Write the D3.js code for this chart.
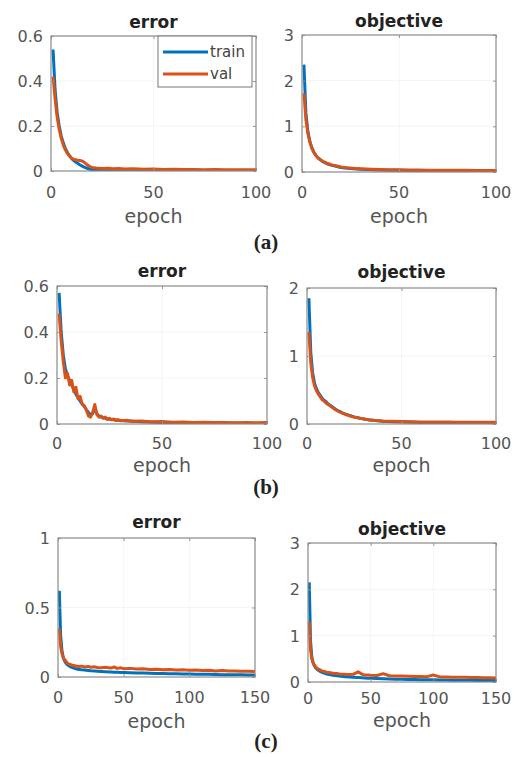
<!DOCTYPE html>
<meta charset="utf-8">
<style>
    body { margin: 0; background: #fff; }
    svg text { font-family: "DejaVu Sans", sans-serif; }
</style>
<script src="https://d3js.org/d3.v7.min.js"></script>
<div id="chart"></div>
<script>
    // ---- data ----
    var aEpochs = [1,2,3,4,5,6,7,8,9,10,11,12,13,14,15,16,17,18,19,20,22,25,28,30,33,36,40,45,50,55,60,65,70,75,80,85,90,95,100];
    var aErrTrain = [0.54,0.36,0.26,0.2,0.155,0.125,0.1,0.082,0.068,0.056,0.047,0.04,0.034,0.028,0.023,0.018,0.014,0.011,0.008,0.006,0.004,0.003,0.002,0.002,0.002,0.001,0.001,0.001,0.001,0.001,0.001,0.001,0.001,0.001,0.001,0.001,0.001,0.001,0.001];
    var aErrVal = [0.42,0.32,0.24,0.185,0.145,0.115,0.094,0.078,0.066,0.058,0.052,0.05,0.048,0.047,0.045,0.04,0.033,0.025,0.02,0.016,0.013,0.011,0.012,0.01,0.011,0.009,0.01,0.008,0.009,0.007,0.008,0.007,0.007,0.006,0.007,0.006,0.006,0.006,0.006];
    var aObjTrain = [2.35,1.3,0.9,0.68,0.54,0.44,0.37,0.32,0.28,0.25,0.22,0.2,0.18,0.165,0.15,0.14,0.13,0.12,0.11,0.1,0.09,0.075,0.065,0.06,0.055,0.05,0.045,0.04,0.036,0.033,0.03,0.028,0.026,0.025,0.023,0.022,0.021,0.02,0.019];
    var aObjVal = [1.72,1.15,0.85,0.66,0.53,0.44,0.37,0.32,0.285,0.255,0.23,0.21,0.19,0.175,0.16,0.15,0.14,0.13,0.12,0.11,0.1,0.085,0.075,0.07,0.065,0.06,0.055,0.05,0.048,0.045,0.043,0.041,0.04,0.038,0.037,0.036,0.035,0.034,0.034];

    var bEpochs = [1,2,3,4,5,6,7,8,9,10,11,12,13,14,15,16,17,18,19,20,21,22,23,24,25,26,27,28,29,30,33,36,40,45,50,55,60,65,70,75,80,85,90,95,100];
    var bErrTrain = [0.57,0.4,0.3,0.24,0.21,0.19,0.17,0.15,0.13,0.115,0.1,0.088,0.075,0.062,0.05,0.04,0.045,0.07,0.045,0.035,0.03,0.027,0.025,0.023,0.021,0.02,0.018,0.017,0.016,0.015,0.013,0.012,0.01,0.008,0.007,0.006,0.005,0.004,0.004,0.003,0.003,0.003,0.002,0.002,0.002];
    var bErrVal = [0.48,0.36,0.27,0.2,0.22,0.17,0.19,0.14,0.16,0.11,0.12,0.085,0.08,0.06,0.035,0.03,0.05,0.085,0.04,0.03,0.035,0.025,0.03,0.02,0.025,0.018,0.022,0.015,0.019,0.014,0.016,0.012,0.013,0.01,0.011,0.008,0.009,0.007,0.008,0.006,0.007,0.005,0.006,0.005,0.006];
    var bObjTrain = [1.85,1.05,0.75,0.6,0.52,0.46,0.42,0.38,0.35,0.33,0.3,0.28,0.26,0.24,0.22,0.2,0.19,0.175,0.16,0.15,0.14,0.13,0.122,0.113,0.105,0.098,0.091,0.085,0.08,0.075,0.06,0.05,0.04,0.033,0.028,0.025,0.022,0.02,0.019,0.018,0.017,0.016,0.015,0.015,0.014];
    var bObjVal = [1.35,0.9,0.68,0.56,0.49,0.44,0.4,0.36,0.335,0.31,0.29,0.27,0.25,0.23,0.21,0.195,0.18,0.17,0.155,0.145,0.135,0.125,0.117,0.108,0.1,0.095,0.09,0.085,0.08,0.075,0.062,0.053,0.045,0.04,0.036,0.033,0.031,0.03,0.029,0.028,0.027,0.027,0.026,0.026,0.025];

    var cEpochs = [1,2,3,4,5,6,7,8,9,10,11,12,13,14,15,18,20,23,25,28,30,33,36,40,43,45,48,50,55,60,65,70,75,80,85,90,95,100,105,110,115,120,125,130,135,140,145,150];
    var cErrTrain = [0.62,0.3,0.19,0.14,0.115,0.1,0.09,0.082,0.076,0.071,0.067,0.064,0.061,0.058,0.056,0.052,0.05,0.047,0.045,0.043,0.042,0.04,0.038,0.036,0.035,0.034,0.033,0.032,0.03,0.029,0.028,0.027,0.026,0.025,0.024,0.023,0.022,0.021,0.02,0.019,0.019,0.018,0.017,0.017,0.016,0.016,0.015,0.015];
    var cErrVal = [0.35,0.22,0.17,0.14,0.125,0.115,0.1,0.095,0.09,0.088,0.082,0.085,0.078,0.08,0.076,0.078,0.072,0.075,0.07,0.073,0.068,0.066,0.07,0.064,0.072,0.062,0.066,0.06,0.062,0.057,0.059,0.054,0.056,0.052,0.054,0.05,0.052,0.048,0.05,0.046,0.049,0.044,0.046,0.043,0.044,0.041,0.042,0.04];
    var cObjTrain = [2.15,0.9,0.55,0.42,0.35,0.31,0.28,0.26,0.24,0.225,0.21,0.2,0.19,0.18,0.17,0.155,0.145,0.135,0.128,0.12,0.115,0.108,0.102,0.095,0.09,0.087,0.083,0.08,0.075,0.07,0.066,0.062,0.059,0.056,0.053,0.05,0.048,0.046,0.044,0.042,0.04,0.039,0.037,0.036,0.035,0.034,0.033,0.032];
    var cObjVal = [1.3,0.7,0.5,0.42,0.37,0.33,0.3,0.28,0.27,0.255,0.24,0.235,0.225,0.22,0.21,0.2,0.19,0.185,0.175,0.17,0.165,0.16,0.165,0.22,0.17,0.15,0.15,0.145,0.14,0.18,0.135,0.13,0.128,0.125,0.12,0.118,0.115,0.15,0.11,0.108,0.105,0.1,0.1,0.098,0.095,0.093,0.09,0.088];

    var errTicks = [0, 0.2, 0.4, 0.6];
    var errTicksC = [0, 0.5, 1];
    var objTicks3 = [0, 1, 2, 3];
    var objTicks2 = [0, 1, 2];
    var xTicks100 = [0, 50, 100];
    var xTicks150 = [0, 50, 100, 150];

    var trainColor = "#0072BD", valColor = "#D95319";

    var svg = d3.select("#chart").append("svg")
        .attr("width", 514)
        .attr("height", 757);

    var panels = [
        {box: [51, 36, 256, 171], x: aEpochs, tr: aErrTrain, va: aErrVal, xmax: 100, xt: xTicks100, ymax: 0.6, yt: errTicks, title: "error", titleY: 28, tickY: 198, labelY: 223, legend: true},
        {box: [302, 35, 496, 172], x: aEpochs, tr: aObjTrain, va: aObjVal, xmax: 100, xt: xTicks100, ymax: 3, yt: objTicks3, title: "objective", titleY: 27, tickY: 198, labelY: 223},
        {box: [57, 286, 267, 424], x: bEpochs, tr: bErrTrain, va: bErrVal, xmax: 100, xt: xTicks100, ymax: 0.6, yt: errTicks, title: "error", titleY: 277, tickY: 449, labelY: 472},
        {box: [307, 288, 496, 424], x: bEpochs, tr: bObjTrain, va: bObjVal, xmax: 100, xt: xTicks100, ymax: 2, yt: objTicks2, title: "objective", titleY: 278, tickY: 449, labelY: 472},
        {box: [58, 538, 255, 677], x: cEpochs, tr: cErrTrain, va: cErrVal, xmax: 150, xt: xTicks150, ymax: 1, yt: errTicksC, title: "error", titleY: 528, tickY: 703, labelY: 728},
        {box: [308, 543, 496, 682], x: cEpochs, tr: cObjTrain, va: cObjVal, xmax: 150, xt: xTicks150, ymax: 3, yt: objTicks3, title: "objective", titleY: 535, tickY: 704, labelY: 727}
    ];

    panels.forEach(function(p, i) {
        var L = p.box[0], T = p.box[1], R = p.box[2], B = p.box[3];
        var x = d3.scaleLinear().domain([0, p.xmax]).range([L, R]);
        var y = d3.scaleLinear().domain([0, p.ymax]).range([B, T]);
        var g = svg.append("g");

        // faint grid
        g.selectAll(".gx").data(p.xt.slice(1, -1)).enter().append("line")
            .attr("x1", function(d) { return x(d); }).attr("x2", function(d) { return x(d); })
            .attr("y1", T).attr("y2", B)
            .attr("stroke", "#f4f4f4");
        g.selectAll(".gy").data(p.yt.slice(1, -1)).enter().append("line")
            .attr("y1", function(d) { return y(d); }).attr("y2", function(d) { return y(d); })
            .attr("x1", L).attr("x2", R)
            .attr("stroke", "#f4f4f4");

        // lines
        g.append("clipPath").attr("id", "clip" + i)
            .append("rect").attr("x", L).attr("y", T - 2).attr("width", R - L).attr("height", B - T + 2);
        var line = d3.line()
            .x(function(d, j) { return x(p.x[j]); })
            .y(function(d) { return y(d); });
        g.append("path").datum(p.tr)
            .attr("d", line).attr("fill", "none")
            .attr("stroke", trainColor).attr("stroke-width", 3)
            .attr("stroke-linejoin", "round")
            .attr("clip-path", "url(#clip" + i + ")");
        g.append("path").datum(p.va)
            .attr("d", line).attr("fill", "none")
            .attr("stroke", valColor).attr("stroke-width", 3)
            .attr("stroke-linejoin", "round")
            .attr("clip-path", "url(#clip" + i + ")");

        // axes: ticks inside on all four sides
        g.append("g").attr("transform", "translate(0," + B + ")")
            .call(d3.axisBottom(x).tickValues(p.xt).tickSize(-3).tickFormat(""));
        g.append("g").attr("transform", "translate(0," + T + ")")
            .call(d3.axisTop(x).tickValues(p.xt).tickSize(-3).tickFormat(""));
        g.append("g").attr("transform", "translate(" + L + ",0)")
            .call(d3.axisLeft(y).tickValues(p.yt).tickSize(-3).tickFormat(""));
        g.append("g").attr("transform", "translate(" + R + ",0)")
            .call(d3.axisRight(y).tickValues(p.yt).tickSize(-3).tickFormat(""));
        g.selectAll(".domain").remove();
        g.selectAll(".tick line").attr("stroke", "#999");

        g.append("rect")
            .attr("x", L).attr("y", T).attr("width", R - L).attr("height", B - T)
            .attr("fill", "none").attr("stroke", "#8a8a8a").attr("stroke-width", 1.2);

        // tick labels
        g.selectAll(".xl").data(p.xt).enter().append("text")
            .attr("x", function(d) { return x(d); }).attr("y", p.tickY)
            .attr("text-anchor", "middle").attr("font-size", 16).attr("fill", "#555")
            .text(function(d) { return d; });
        g.selectAll(".yl").data(p.yt).enter().append("text")
            .attr("x", L - 8).attr("y", function(d) { return y(d) + 6; })
            .attr("text-anchor", "end").attr("font-size", 16).attr("fill", "#555")
            .text(function(d) { return d; });

        g.append("text")
            .attr("x", (L + R) / 2).attr("y", p.labelY)
            .attr("text-anchor", "middle").attr("font-size", 19).attr("fill", "#555")
            .text("epoch");
        g.append("text")
            .attr("x", (L + R) / 2).attr("y", p.titleY)
            .attr("text-anchor", "middle").attr("font-size", 17).attr("font-weight", "bold").attr("fill", "#222")
            .text(p.title);

        if (p.legend) {
            var lg = g.append("g");
            lg.append("rect").attr("x", 158).attr("y", 36).attr("width", 94).attr("height", 51)
                .attr("fill", "#fff").attr("stroke", "#777").attr("stroke-width", 1);
            [["train", trainColor, 52], ["val", valColor, 74]].forEach(function(e) {
                lg.append("line").attr("x1", 163).attr("x2", 208).attr("y1", e[2]).attr("y2", e[2])
                    .attr("stroke", e[1]).attr("stroke-width", 3);
                lg.append("text").attr("x", 210).attr("y", e[2] + 5)
                    .attr("font-size", 15).attr("fill", "#444").text(e[0]);
            });
        }
    });

    // sub-figure captions
    var captions = [["(a)", 249], ["(b)", 494], ["(c)", 748]];
    svg.selectAll(".cap").data(captions).enter().append("text")
        .attr("x", 266).attr("y", function(d) { return d[1]; })
        .attr("text-anchor", "middle")
        .style("font-family", "'Liberation Serif', serif")
        .attr("font-size", 21).attr("font-weight", "bold").attr("fill", "#222")
        .text(function(d) { return d[0]; });
</script>
